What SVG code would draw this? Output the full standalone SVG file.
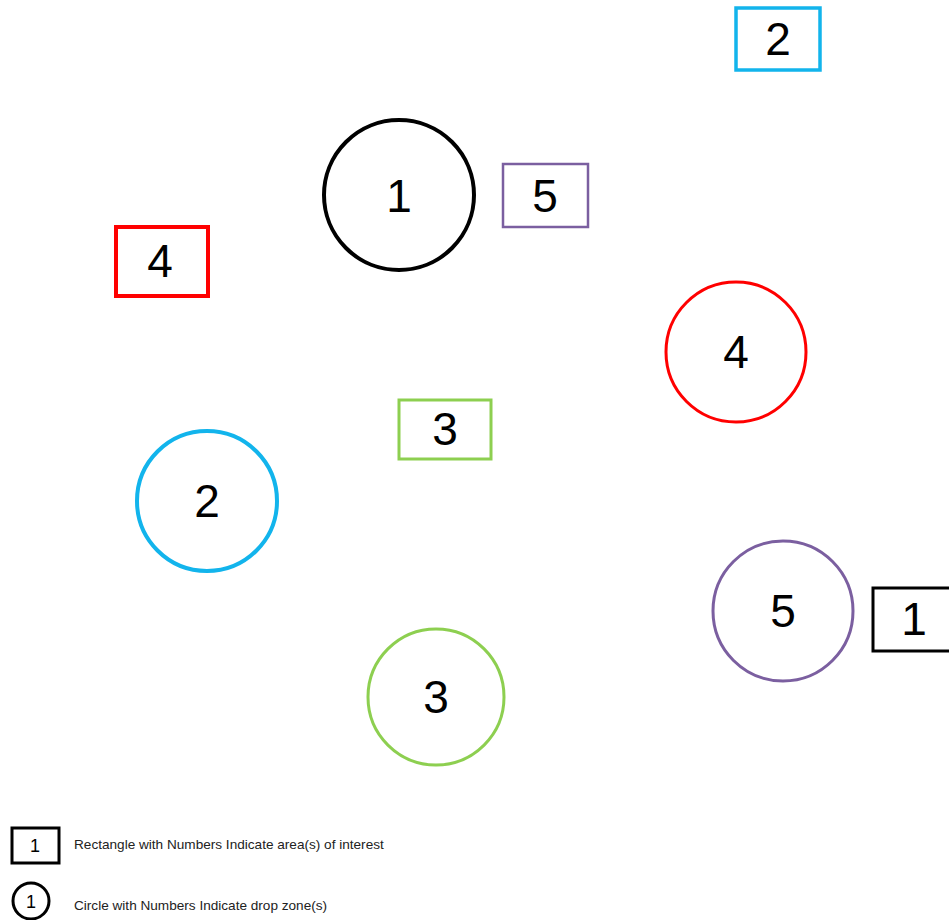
<svg xmlns="http://www.w3.org/2000/svg" width="949" height="920" viewBox="0 0 949 920">
<style>
.n{font-family:"Liberation Sans",Arial,sans-serif;font-size:46px;fill:#000;text-anchor:middle}
.s{font-family:"Liberation Sans",Arial,sans-serif;font-size:13.6px;fill:#222}
.l{font-family:"Liberation Sans",Arial,sans-serif;font-size:18px;fill:#000;text-anchor:middle}
rect,circle{fill:#fff}
</style>
<rect width="949" height="920" fill="#fff"/>
<g id="rect2"><rect x="736" y="8" width="84" height="62" stroke="#12b4ec" stroke-width="3.5"/><text class="n" x="778" y="55">2</text></g>
<g id="circle1"><circle cx="399" cy="195" r="75" stroke="#000" stroke-width="4"/><text class="n" x="399" y="212">1</text></g>
<g id="rect5"><rect x="503" y="164" width="85" height="63" stroke="#7b5fa0" stroke-width="2.5"/><text class="n" x="545" y="212">5</text></g>
<g id="rect4"><rect x="116" y="227" width="92" height="69" stroke="#f00" stroke-width="4"/><text class="n" x="160" y="277">4</text></g>
<g id="circle4"><circle cx="736" cy="352" r="70" stroke="#f00" stroke-width="3"/><text class="n" x="736" y="368">4</text></g>
<g id="rect3"><rect x="399" y="400" width="92" height="59" stroke="#8dcf50" stroke-width="3"/><text class="n" x="445" y="445">3</text></g>
<g id="circle2"><circle cx="207" cy="501" r="70" stroke="#12b4ec" stroke-width="4"/><text class="n" x="207" y="517">2</text></g>
<g id="circle5"><circle cx="783" cy="611" r="70" stroke="#7b5fa0" stroke-width="3"/><text class="n" x="783" y="627">5</text></g>
<g id="rect1"><rect x="873" y="588" width="82" height="63" stroke="#000" stroke-width="3"/><text class="n" x="914" y="635">1</text></g>
<g id="circle3"><circle cx="436" cy="697" r="68" stroke="#8dcf50" stroke-width="3"/><text class="n" x="436" y="713">3</text></g>
<g id="legend">
<rect x="12" y="828" width="47" height="35" stroke="#000" stroke-width="3"/><text class="l" x="35" y="852">1</text>
<text class="s" x="74" y="849">Rectangle with Numbers Indicate area(s) of interest</text>
<circle cx="31" cy="901" r="18" stroke="#000" stroke-width="3"/><text class="l" x="31" y="908">1</text>
<text class="s" x="74" y="910">Circle with Numbers Indicate drop zone(s)</text>
</g>
<g id="connectors"></g>
</svg>
